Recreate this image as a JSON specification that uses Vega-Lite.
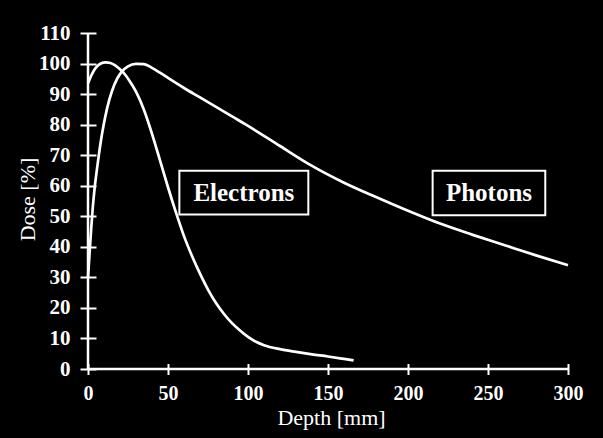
{
  "$schema": "https://vega.github.io/schema/vega-lite/v6.json",
  "width": 480,
  "height": 336,
  "autosize": "none",
  "padding": {"left": 88, "top": 33, "right": 35, "bottom": 69},
  "background": "black",
  "config": {
    "view": {"stroke": null},
    "font": "Liberation Serif",
    "axisX": {
      "offset": -5.5, "tickSize": 11, "tickWidth": 2, "tickColor": "white",
      "domain": false, "grid": false,
      "labelOverlap": false, "labelFlush": false, "labelBound": false,
      "labelFont": "Liberation Serif", "labelFontSize": 20, "labelFontWeight": "bold",
      "labelColor": "white", "labelPadding": 9,
      "titleFont": "Liberation Serif", "titleFontSize": 22, "titleFontWeight": "normal",
      "titleColor": "white", "titleBaseline": "alphabetic", "titleX": 243, "titleY": 61
    },
    "axisY": {
      "offset": -8, "tickSize": 16, "tickWidth": 2, "tickColor": "white",
      "domain": false, "grid": false,
      "labelOverlap": false, "labelFlush": false, "labelBound": false,
      "labelFont": "Liberation Serif", "labelFontSize": 21, "labelFontWeight": "bold",
      "labelColor": "white", "labelPadding": 10,
      "titleFont": "Liberation Serif", "titleFontSize": 22, "titleFontWeight": "normal",
      "titleColor": "white", "titleAngle": -90, "titleBaseline": "alphabetic",
      "titleX": -62, "titleY": 166, "titleAlign": "center"
    }
  },
  "datasets": {
    "curves": [
      {"series": "Electrons", "depth": 0, "dose": 93.5},
      {"series": "Electrons", "depth": 2, "dose": 96},
      {"series": "Electrons", "depth": 4, "dose": 98},
      {"series": "Electrons", "depth": 6, "dose": 99.3},
      {"series": "Electrons", "depth": 8, "dose": 100},
      {"series": "Electrons", "depth": 11, "dose": 100.4},
      {"series": "Electrons", "depth": 14, "dose": 100.2},
      {"series": "Electrons", "depth": 17, "dose": 99.4},
      {"series": "Electrons", "depth": 20, "dose": 98.1},
      {"series": "Electrons", "depth": 23, "dose": 96.5},
      {"series": "Electrons", "depth": 26, "dose": 94.3},
      {"series": "Electrons", "depth": 30, "dose": 90.8},
      {"series": "Electrons", "depth": 35, "dose": 84.8},
      {"series": "Electrons", "depth": 40, "dose": 77},
      {"series": "Electrons", "depth": 45, "dose": 68.3},
      {"series": "Electrons", "depth": 50, "dose": 59.5},
      {"series": "Electrons", "depth": 55, "dose": 51.2},
      {"series": "Electrons", "depth": 60, "dose": 43.5},
      {"series": "Electrons", "depth": 65, "dose": 37},
      {"series": "Electrons", "depth": 70, "dose": 31.2},
      {"series": "Electrons", "depth": 75, "dose": 26},
      {"series": "Electrons", "depth": 80, "dose": 21.6},
      {"series": "Electrons", "depth": 85, "dose": 18},
      {"series": "Electrons", "depth": 90, "dose": 15},
      {"series": "Electrons", "depth": 95, "dose": 12.6},
      {"series": "Electrons", "depth": 100, "dose": 10.5},
      {"series": "Electrons", "depth": 105, "dose": 8.9},
      {"series": "Electrons", "depth": 110, "dose": 7.8},
      {"series": "Electrons", "depth": 120, "dose": 6.5},
      {"series": "Electrons", "depth": 130, "dose": 5.6},
      {"series": "Electrons", "depth": 140, "dose": 4.8},
      {"series": "Electrons", "depth": 150, "dose": 4.1},
      {"series": "Electrons", "depth": 160, "dose": 3.3},
      {"series": "Electrons", "depth": 166, "dose": 2.8},
      {"series": "Photons", "depth": 0, "dose": 30},
      {"series": "Photons", "depth": 1, "dose": 38},
      {"series": "Photons", "depth": 2, "dose": 46},
      {"series": "Photons", "depth": 3, "dose": 53},
      {"series": "Photons", "depth": 4, "dose": 58.5},
      {"series": "Photons", "depth": 6, "dose": 67},
      {"series": "Photons", "depth": 8, "dose": 74.5},
      {"series": "Photons", "depth": 10, "dose": 80.5},
      {"series": "Photons", "depth": 12, "dose": 85.5},
      {"series": "Photons", "depth": 15, "dose": 91},
      {"series": "Photons", "depth": 18, "dose": 94.8},
      {"series": "Photons", "depth": 21, "dose": 97.3},
      {"series": "Photons", "depth": 25, "dose": 99.1},
      {"series": "Photons", "depth": 30, "dose": 99.9},
      {"series": "Photons", "depth": 35, "dose": 99.8},
      {"series": "Photons", "depth": 40, "dose": 98.6},
      {"series": "Photons", "depth": 45, "dose": 97},
      {"series": "Photons", "depth": 50, "dose": 95.3},
      {"series": "Photons", "depth": 60, "dose": 92},
      {"series": "Photons", "depth": 70, "dose": 88.9},
      {"series": "Photons", "depth": 80, "dose": 85.8},
      {"series": "Photons", "depth": 90, "dose": 82.7},
      {"series": "Photons", "depth": 100, "dose": 79.6},
      {"series": "Photons", "depth": 120, "dose": 73},
      {"series": "Photons", "depth": 140, "dose": 66.5},
      {"series": "Photons", "depth": 160, "dose": 61},
      {"series": "Photons", "depth": 180, "dose": 56.3},
      {"series": "Photons", "depth": 200, "dose": 51.8},
      {"series": "Photons", "depth": 220, "dose": 47.6},
      {"series": "Photons", "depth": 240, "dose": 44},
      {"series": "Photons", "depth": 260, "dose": 40.6},
      {"series": "Photons", "depth": 280, "dose": 37.2},
      {"series": "Photons", "depth": 300, "dose": 34}
    ],
    "labels": [
      {"label": "Electrons", "x1": 57.1, "x2": 137.7, "y1": 50.6, "y2": 64.9, "xc": 97.4, "yc": 57.7},
      {"label": "Photons", "x1": 215.4, "x2": 285.8, "y1": 50.3, "y2": 64.9, "xc": 250.6, "yc": 57.6}
    ],
    "axislines": [
      {"x1": 0, "x2": 0, "y1": 0, "y2": 110},
      {"x1": 0, "x2": 300, "y1": 0, "y2": 0}
    ]
  },
  "layer": [
    {
      "data": {"name": "curves"},
      "mark": {"type": "line", "color": "white", "strokeWidth": 2.7, "interpolate": "monotone"},
      "encoding": {
        "x": {
          "field": "depth", "type": "quantitative",
          "scale": {"domain": [0, 300], "nice": false},
          "axis": {"title": "Depth [mm]", "values": [0, 50, 100, 150, 200, 250, 300]}
        },
        "y": {
          "field": "dose", "type": "quantitative",
          "scale": {"domain": [0, 110], "nice": false},
          "axis": {"title": "Dose [%]", "values": [0, 10, 20, 30, 40, 50, 60, 70, 80, 90, 100, 110]}
        },
        "detail": {"field": "series", "type": "nominal"}
      }
    },
    {
      "data": {"name": "axislines"},
      "mark": {"type": "rule", "color": "white", "strokeWidth": 2.5},
      "encoding": {
        "x": {"field": "x1", "type": "quantitative", "axis": {"title": "Depth [mm]", "values": [0, 50, 100, 150, 200, 250, 300]}},
        "x2": {"field": "x2"},
        "y": {"field": "y1", "type": "quantitative", "axis": {"title": "Dose [%]", "values": [0, 10, 20, 30, 40, 50, 60, 70, 80, 90, 100, 110]}},
        "y2": {"field": "y2"}
      }
    },
    {
      "data": {"name": "labels"},
      "mark": {"type": "rect", "fill": "black", "stroke": "white", "strokeWidth": 2},
      "encoding": {
        "x": {"field": "x1", "type": "quantitative", "axis": {"title": "Depth [mm]", "values": [0, 50, 100, 150, 200, 250, 300]}},
        "x2": {"field": "x2"},
        "y": {"field": "y1", "type": "quantitative", "axis": {"title": "Dose [%]", "values": [0, 10, 20, 30, 40, 50, 60, 70, 80, 90, 100, 110]}},
        "y2": {"field": "y2"}
      }
    },
    {
      "data": {"name": "labels"},
      "mark": {"type": "text", "color": "white", "font": "Liberation Serif", "fontSize": 25, "fontWeight": "bold", "baseline": "middle", "align": "center"},
      "encoding": {
        "x": {"field": "xc", "type": "quantitative", "axis": {"title": "Depth [mm]", "values": [0, 50, 100, 150, 200, 250, 300]}},
        "y": {"field": "yc", "type": "quantitative", "axis": {"title": "Dose [%]", "values": [0, 10, 20, 30, 40, 50, 60, 70, 80, 90, 100, 110]}},
        "text": {"field": "label"}
      }
    }
  ]
}
